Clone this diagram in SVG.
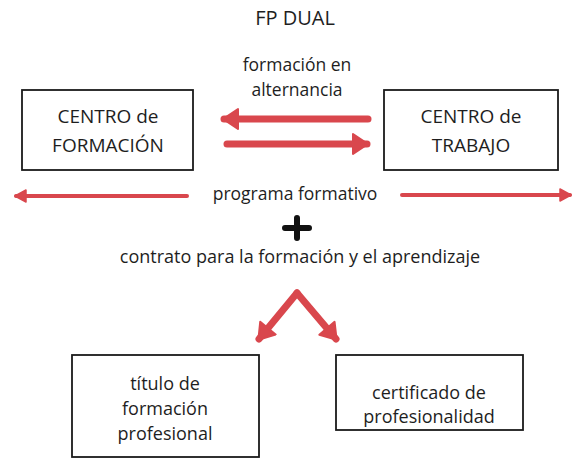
<svg xmlns="http://www.w3.org/2000/svg" width="577" height="459" viewBox="0 0 577 459">
<defs>
<style>
text{font-family:"Open Sans","Noto Sans","Liberation Sans",sans-serif;fill:#1e1e1e;text-anchor:middle}
.box{fill:#fff;stroke:#1a1a1a;stroke-width:1.8}
.big{stroke:#d9474d;stroke-width:7;stroke-linecap:round;fill:none}
.thin{stroke:#d9474d;stroke-width:4;stroke-linecap:round;fill:none}
</style>
<marker id="hb" markerUnits="userSpaceOnUse" markerWidth="20" markerHeight="24" refX="16" refY="11" orient="auto">
<path d="M2,1 L17,11 L2,21 Z" fill="#d9474d" stroke="#d9474d" stroke-width="2" stroke-linejoin="round"/>
</marker>
<marker id="hs" markerUnits="userSpaceOnUse" markerWidth="14" markerHeight="16" refX="11" refY="7" orient="auto">
<path d="M1,1 L12,7 L1,13 Z" fill="#d9474d" stroke="#d9474d" stroke-width="1.5" stroke-linejoin="round"/>
</marker>
</defs>
<rect width="577" height="459" fill="#fff"/>
<text x="295" y="25" font-size="20">FP DUAL</text>
<text x="297" y="71" font-size="17.5">formación en</text>
<text x="297" y="96" font-size="17.5">alternancia</text>
<g id="centro-formacion">
<rect class="box" x="22" y="90" width="171" height="80"/>
<text x="108" y="123" font-size="19">CENTRO de</text>
<text x="108" y="152" font-size="19">FORMACIÓN</text>
</g>
<g id="centro-trabajo">
<rect class="box" x="384" y="90" width="174" height="80"/>
<text x="471" y="123" font-size="19">CENTRO de</text>
<text x="471" y="152" font-size="19">TRABAJO</text>
</g>
<text x="295" y="200" font-size="17.5">programa formativo</text>
<g id="plus">
<path d="M285,228 H309 M297,218 V238" stroke="#111" stroke-width="6" stroke-linecap="round"/>
</g>
<text x="300" y="263" font-size="18">contrato para la formación y el aprendizaje</text>
<g id="titulo">
<rect class="box" x="72" y="355" width="187" height="102"/>
<text x="165" y="390" font-size="18">título de</text>
<text x="165" y="415" font-size="18">formación</text>
<text x="165" y="440" font-size="18">profesional</text>
</g>
<g id="certificado">
<rect class="box" x="336" y="355" width="187" height="75"/>
<text x="429" y="399" font-size="18">certificado de</text>
<text x="429" y="423" font-size="18">profesionalidad</text>
</g>
<g id="connectors">
<line class="big" x1="368" y1="119" x2="224" y2="119" marker-end="url(#hb)"/>
<line class="big" x1="227" y1="144" x2="367" y2="144" marker-end="url(#hb)"/>
<line class="thin" x1="187" y1="196" x2="16" y2="196" marker-end="url(#hs)"/>
<line class="thin" x1="402" y1="195" x2="570" y2="195" marker-end="url(#hs)"/>
<line class="big" x1="297" y1="293" x2="259" y2="339" marker-end="url(#hb)"/>
<line class="big" x1="297" y1="293" x2="336" y2="339" marker-end="url(#hb)"/>
</g>
</svg>
